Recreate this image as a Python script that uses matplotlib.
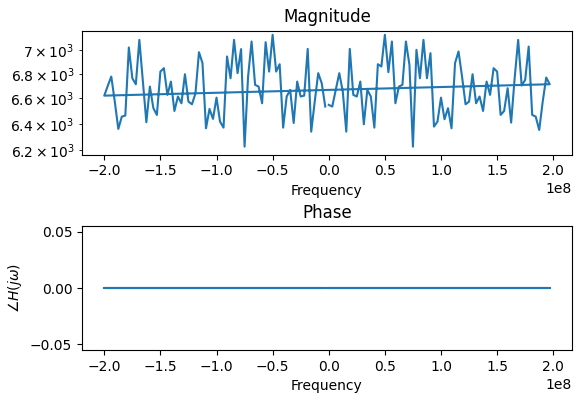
import numpy as np
import matplotlib
matplotlib.use("Agg")
import matplotlib.pyplot as plt

# Frequency bins (Hz), sorted from most negative to most positive
bin_index = np.arange(-64, 64)
bin_width_hz = 3.125e6
freq_sorted = bin_index * bin_width_hz

# Magnitude values, in ascending frequency order
magnitude_sorted = [
    6622, 6701, 6777, 6574, 6360, 6456, 6464, 7020, 6763, 6714,
    7085, 6736, 6412, 6695, 6522, 6469, 6818, 6846, 6628, 6736,
    6500, 6615, 6561, 6796, 6574, 6553, 6641, 6980, 6888, 6365,
    6516, 6438, 6606, 6417, 6370, 6944, 6763, 7085, 6805, 7006,
    6225, 6777, 7071, 6709, 6695, 6561, 7065, 6818, 7129, 6818,
    6879, 6370, 6615, 6668, 6406, 6736, 6615, 6622, 7008, 6339,
    6574, 6805, 6722, 6535,
    6548, 6535, 6668, 6805, 6655, 6339, 7008, 6628, 6615, 6736,
    6396, 6668, 6615, 6370, 6879, 6860, 7129, 6813, 7071, 6561,
    6695, 6709, 7071, 6874, 6225, 7000, 6763, 7085, 6763, 6972,
    6378, 6417, 6606, 6435, 6522, 6365, 6888, 6986, 6777, 6553,
    6574, 6796, 6561, 6615, 6500, 6736, 6628, 6846, 6818, 6469,
    6500, 6682, 6409, 6763, 7085, 6703, 6750, 7028, 6469, 6456,
    6352, 6574, 6769, 6714,
]
phase_sorted = [0.0] * 128

# Plot in FFT order (non-negative frequencies first, then negative ones)
fft_order = np.r_[64:128, 0:64]
freq_plot = freq_sorted[fft_order]
mag_plot = np.asarray(magnitude_sorted, dtype=float)[fft_order]
phase_plot = np.asarray(phase_sorted, dtype=float)[fft_order]

fig = plt.figure(figsize=(5.82, 4.0), dpi=100)
W, H = 582.0, 400.0
ax1 = fig.add_axes([82 / W, 1 - 154.5 / H, 490 / W, 124 / H])
ax2 = fig.add_axes([82 / W, 1 - 350 / H, 490 / W, 124 / H])

ax1.plot(freq_plot, mag_plot)
ax1.set_yscale('log')
ax1.set_ylim(6166, 7166)
ax1.set_title('Magnitude')
ax1.set_xlabel('Frequency')

ax2.plot(freq_plot, phase_plot)
ax2.set_title('Phase')
ax2.set_xlabel('Frequency')
ax2.set_ylabel(r'$\angle H(j\omega)$')

fig.savefig('out.png', dpi=100)
